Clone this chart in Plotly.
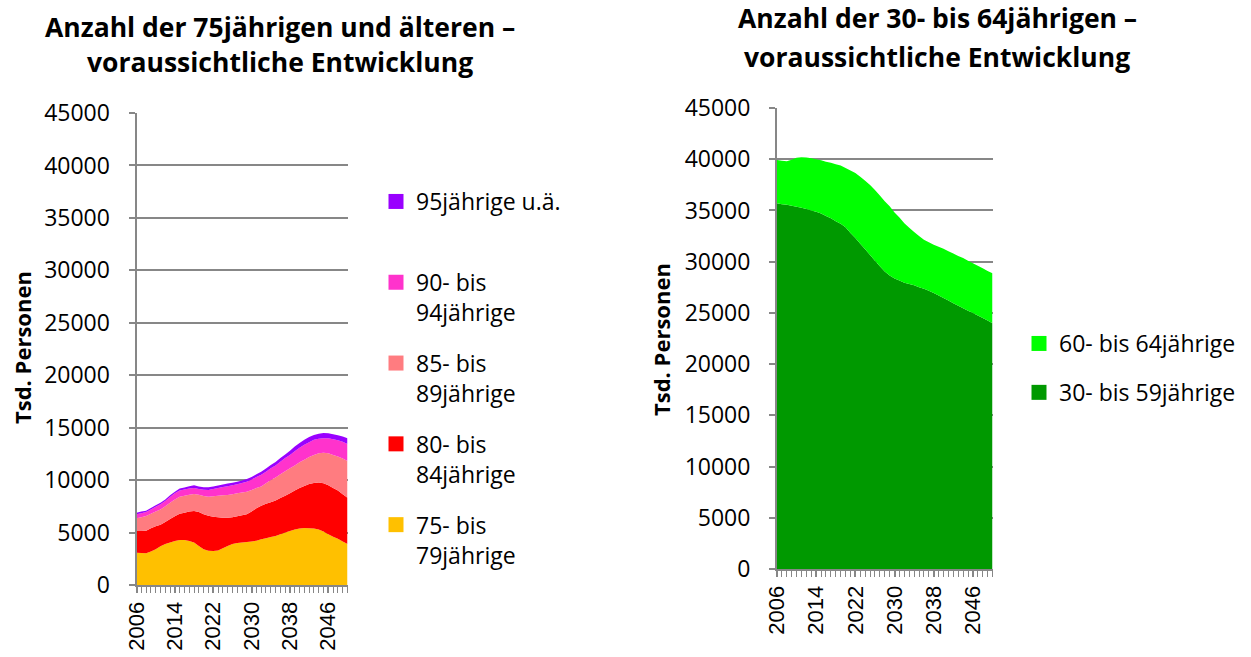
import plotly.graph_objects as go

years = list(range(2006, 2051))

# Left chart: 75jährige und älter (Tsd. Personen)
a75_79 = [3080, 3050, 3020, 3200, 3400, 3700, 3900, 4050, 4200, 4280, 4290, 4200, 4050, 3720, 3400,
          3270, 3250, 3300, 3500, 3720, 3900, 4000, 4060, 4100, 4150, 4230, 4350, 4450, 4580, 4680,
          4850, 5000, 5150, 5280, 5380, 5430, 5420, 5380, 5280, 5100, 4850, 4600, 4400, 4150, 3910]
a80_84 = [2070, 2110, 2160, 2200, 2200, 2050, 2100, 2250, 2350, 2520, 2610, 2800, 3000, 3230, 3350,
          3330, 3250, 3150, 2920, 2700, 2550, 2550, 2590, 2650, 2850, 3080, 3200, 3300, 3320, 3370,
          3450, 3500, 3590, 3720, 3870, 4020, 4200, 4340, 4490, 4600, 4650, 4650, 4600, 4500, 4420]
a85_89 = [1210, 1290, 1400, 1400, 1400, 1450, 1500, 1550, 1600, 1620, 1600, 1600, 1620, 1650, 1730,
          1820, 1950, 2050, 2130, 2160, 2200, 2200, 2180, 2150, 2050, 1940, 1850, 1950, 2100, 2200,
          2250, 2350, 2380, 2400, 2450, 2500, 2580, 2680, 2780, 2900, 3050, 3150, 3250, 3400, 3490]
a90_94 = [380, 400, 380, 400, 450, 500, 500, 550, 600, 580, 600, 600, 580, 550, 600,
          640, 700, 750, 800, 840, 850, 850, 890, 950, 1000, 1050, 1100, 1100, 1120, 1150,
          1200, 1250, 1270, 1350, 1380, 1430, 1420, 1450, 1400, 1400, 1430, 1500, 1550, 1600, 1620]
a95_plus = [160, 150, 130, 150, 150, 150, 150, 150, 150, 200, 200, 220, 250, 250, 240,
            250, 230, 230, 230, 250, 250, 250, 250, 250, 250, 250, 300, 300, 330, 320,
            350, 350, 420, 450, 470, 470, 480, 450, 470, 480, 480, 480, 480, 500, 540]

# Right chart: 30- bis 64jährige (Tsd. Personen)
a30_59 = [35700, 35600, 35550, 35450, 35350, 35270, 35150, 35000, 34880, 34700, 34450, 34250, 33950, 33700, 33350,
          32800, 32300, 31750, 31200, 30650, 30100, 29550, 29050, 28650, 28350, 28150, 27950, 27820, 27700, 27500,
          27350, 27150, 26950, 26700, 26450, 26200, 25950, 25700, 25450, 25220, 25000, 24750, 24500, 24250, 23980]
a60_64 = [4230, 4250, 4250, 4500, 4800, 4930, 5020, 5100, 5120, 5200, 5310, 5400, 5550, 5680, 5800,
          6100, 6350, 6550, 6700, 6840, 6900, 6900, 6850, 6750, 6450, 6150, 5800, 5480, 5200, 5000,
          4800, 4750, 4700, 4750, 4800, 4820, 4850, 4850, 4900, 4880, 4850, 4850, 4850, 4850, 4880]

left_series = [
    ("75- bis<br>79jährige", a75_79, "#FFC000"),
    ("80- bis<br>84jährige", a80_84, "#FF0000"),
    ("85- bis<br>89jährige", a85_89, "#FF7C80"),
    ("90- bis<br>94jährige", a90_94, "#FF33CC"),
    ("95jährige u.ä.<br> ", a95_plus, "#9900FF"),
]
right_series = [
    ("30- bis 59jährige", a30_59, "#009900"),
    ("60- bis 64jährige", a60_64, "#00FF00"),
]

x_ticks = list(range(2006, 2050, 8))
y_ticks = list(range(0, 45001, 5000))

W, H = 1251, 657
fig = go.Figure()

for name, vals, col in left_series:
    fig.add_trace(go.Scatter(x=years, y=vals, stackgroup="left", mode="none",
                             fillcolor=col, line=dict(width=0), showlegend=False,
                             xaxis="x", yaxis="y", hoverinfo="skip"))
# legend entries, top to bottom (reverse of stacking order)
for i, (name, vals, col) in enumerate(reversed(left_series)):
    fig.add_trace(go.Scatter(x=[None], y=[None], mode="markers", name=name,
                             marker=dict(symbol="square", size=15, color=col),
                             legend="legend", legendgroup="L%d" % i,
                             xaxis="x", yaxis="y"))
for name, vals, col in right_series:
    fig.add_trace(go.Scatter(x=years, y=vals, stackgroup="right", mode="none",
                             fillcolor=col, line=dict(width=0), showlegend=False,
                             xaxis="x2", yaxis="y2", hoverinfo="skip"))
for i, (name, vals, col) in enumerate(reversed(right_series)):
    fig.add_trace(go.Scatter(x=[None], y=[None], mode="markers", name=name,
                             marker=dict(symbol="square", size=15, color=col),
                             legend="legend2", legendgroup="R%d" % i,
                             xaxis="x2", yaxis="y2"))

grid = "#878787"
xcommon = dict(range=[2006, 2050], tickvals=x_ticks, tickangle=-90, automargin=False,
               ticks="outside", ticklen=6, tickwidth=2, tickcolor=grid,
               minor=dict(dtick=1, tick0=2006, ticks="outside", ticklen=6, tickwidth=1, tickcolor=grid, showgrid=False),
               showline=True, linecolor=grid, linewidth=2, showgrid=False, zeroline=False,
               tickfont=dict(family="Liberation Sans", size=22, color="#000"))
ycommon = dict(range=[0, 45000], tickvals=y_ticks, tickformat="d", automargin=False,
               ticks="outside", ticklen=6, tickwidth=2, tickcolor=grid,
               showline=True, linecolor=grid, linewidth=2, showgrid=True, gridcolor=grid, gridwidth=2,
               zeroline=False, tickfont=dict(family="Open Sans", size=23, color="#000"), ticklabelstandoff=14)

fig.update_layout(
    width=W, height=H, margin=dict(l=0, r=0, t=0, b=0, autoexpand=False),
    paper_bgcolor="white", plot_bgcolor="white",
    xaxis=dict(domain=[136.5 / W, 347.5 / W], anchor="y", **xcommon),
    yaxis=dict(domain=[1 - 585 / H, 1 - 113 / H], anchor="x", **ycommon),
    xaxis2=dict(domain=[777 / W, 992.5 / W], anchor="y2", **xcommon),
    yaxis2=dict(domain=[1 - 569 / H, 1 - 108 / H], anchor="x2", **ycommon),
    legend=dict(x=376 / W, y=1 - 180 / H, xanchor="left", yanchor="top", traceorder="grouped",
                valign="top", tracegroupgap=18, bgcolor="rgba(0,0,0,0)",
                font=dict(family="Open Sans", size=23, color="#000")),
    legend2=dict(x=1019 / W, y=1 - 322 / H, xanchor="left", yanchor="top", traceorder="grouped",
                 valign="top", tracegroupgap=16, bgcolor="rgba(0,0,0,0)",
                 font=dict(family="Open Sans", size=23, color="#000")),
    showlegend=True,
)

tfont = dict(family="Open Sans", size=26.5, color="#000", weight="bold")
ann = [
    dict(text="Anzahl der 75jährigen und älteren –", x=280 / W, y=1 - 27 / H),
    dict(text="voraussichtliche Entwicklung", x=280 / W, y=1 - 62 / H),
    dict(text="Anzahl der 30- bis 64jährigen –", x=937 / W, y=1 - 18 / H),
    dict(text="voraussichtliche Entwicklung", x=937 / W, y=1 - 57 / H),
]
for a in ann:
    fig.add_annotation(xref="paper", yref="paper", xanchor="center", yanchor="middle",
                       showarrow=False, font=tfont, **a)
afont = dict(family="Open Sans", size=22, color="#000", weight="bold")
fig.add_annotation(text="Tsd. Personen", xref="paper", yref="paper", x=22 / W, y=1 - 348 / H,
                   textangle=-90, showarrow=False, font=afont, xanchor="center", yanchor="middle")
fig.add_annotation(text="Tsd. Personen", xref="paper", yref="paper", x=661 / W, y=1 - 340 / H,
                   textangle=-90, showarrow=False, font=afont, xanchor="center", yanchor="middle")

fig.write_html("out.html", config={"displayModeBar": False},
               post_script="document.body.style.margin='0px';")
